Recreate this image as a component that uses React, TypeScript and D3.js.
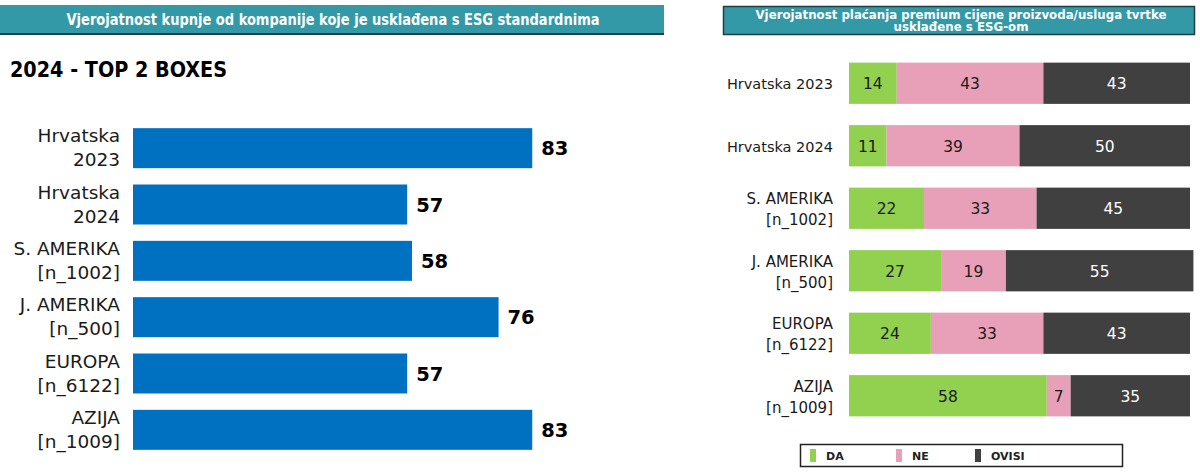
// @ts-nocheck
import * as d3 from 'd3'

const leftCategories = [
  ['Hrvatska', '2023'],
  ['Hrvatska', '2024'],
  ['S. AMERIKA', '[n_1002]'],
  ['J. AMERIKA', '[n_500]'],
  ['EUROPA', '[n_6122]'],
  ['AZIJA', '[n_1009]'],
]
const top2Values = [83, 57, 58, 76, 57, 83]

const rightCategories = [
  ['Hrvatska 2023'],
  ['Hrvatska 2024'],
  ['S. AMERIKA', '[n_1002]'],
  ['J. AMERIKA', '[n_500]'],
  ['EUROPA', '[n_6122]'],
  ['AZIJA', '[n_1009]'],
]
const seriesKeys = ['DA', 'NE', 'OVISI']
const daValues = [14, 11, 22, 27, 24, 58]
const neValues = [43, 39, 33, 19, 33, 7]
const ovisiValues = [43, 50, 45, 55, 43, 35]

const leftTitle = 'Vjerojatnost kupnje od kompanije koje je usklađena s ESG standardnima'
const rightTitle = ['Vjerojatnost plaćanja premium cijene proizvoda/usluga tvrtke', 'usklađene s ESG-om']
const subTitle = '2024 - TOP 2 BOXES'

const colors = { DA: '#92D050', NE: '#E8A0B8', OVISI: '#404040' }
const textColors = { DA: '#1a1a1a', NE: '#1a1a1a', OVISI: '#ffffff' }
const FONT = '"DejaVu Sans", Verdana, sans-serif'
const COND = '"DejaVu Sans Condensed", "DejaVu Sans", sans-serif'

export default function App() {
  // left chart scales
  const xL = d3.scaleLinear().domain([0, 100]).range([133, 133 + 481])
  const yL = d3
    .scaleBand()
    .domain(leftCategories.map((_, i) => String(i)))
    .range([120, 458])
    .paddingInner(0.29)
    .paddingOuter(0.145)

  // right chart scales
  const xR = d3.scaleLinear().domain([0, 100]).range([849, 1190])
  const yR = d3
    .scaleBand()
    .domain(rightCategories.map((_, i) => String(i)))
    .range([52, 427])
    .paddingInner(0.34)
    .paddingOuter(0.17)

  const table = rightCategories.map((_, i) => ({
    key: String(i),
    DA: daValues[i],
    NE: neValues[i],
    OVISI: ovisiValues[i],
  }))
  const series = d3.stack().keys(seriesKeys)(table)

  return (
    <svg
      width={1200}
      height={473}
      style={{ position: 'absolute', left: 0, top: 0, background: '#fff' }}
    >
      {/* left header */}
      <rect x={0} y={5} width={664} height={29} fill="#3499A7" />
      <rect x={0} y={33} width={664} height={2} fill="#1f3f47" />
      <text
        x={333}
        y={25}
        textAnchor="middle"
        fill="#fff"
        fontFamily={COND}
        fontWeight="bold"
        fontSize={15.5}
        textLength={533}
        lengthAdjust="spacingAndGlyphs"
      >
        {leftTitle}
      </text>
      <text
        x={10}
        y={77}
        fontFamily={COND}
        fontWeight="bold"
        fontSize={22}
        fill="#000"
        textLength={217}
        lengthAdjust="spacingAndGlyphs"
      >
        {subTitle}
      </text>

      {top2Values.map((v, i) => {
        const y = yL(String(i))
        const bw = yL.bandwidth()
        return (
          <g key={i}>
            <rect x={xL(0)} y={y} width={xL(v) - xL(0)} height={bw} fill="#0070C0" />
            <text
              x={xL(v) + 9}
              y={y + bw / 2 + 7}
              fontFamily={FONT}
              fontWeight="bold"
              fontSize={19.5}
              fill="#000"
            >
              {v}
            </text>
            {leftCategories[i].map((line, j) => (
              <text
                key={j}
                x={120}
                y={y + 14 + j * 24}
                textAnchor="end"
                fontFamily={FONT}
                fontSize={18.5}
                fill="#1a1a1a"
              >
                {line}
              </text>
            ))}
          </g>
        )
      })}

      {/* right header */}
      <rect x={723.5} y={6.5} width={471} height={28} fill="#3499A7" stroke="#1f3f47" strokeWidth={1.5} />
      {rightTitle.map((t, j) => (
        <text
          key={j}
          x={961}
          y={18.5 + j * 12}
          textAnchor="middle"
          fill="#fff"
          fontFamily={FONT}
          fontWeight="bold"
          fontSize={11.5}
          textLength={j === 0 ? 411 : 135}
          lengthAdjust="spacingAndGlyphs"
        >
          {t}
        </text>
      ))}

      {series.map((s) => (
        <g key={s.key}>
          {s.map((d, i) => {
            const y = yR(String(i))
            const bw = yR.bandwidth()
            return (
              <g key={i}>
                <rect x={xR(d[0])} y={y} width={xR(d[1]) - xR(d[0])} height={bw} fill={colors[s.key]} />
                <text
                  x={(xR(d[0]) + xR(d[1])) / 2}
                  y={y + bw / 2 + 6}
                  textAnchor="middle"
                  fontFamily={FONT}
                  fontSize={15.5}
                  fill={textColors[s.key]}
                >
                  {d[1] - d[0]}
                </text>
              </g>
            )
          })}
        </g>
      ))}

      {rightCategories.map((lines, i) => {
        const y = yR(String(i))
        const bw = yR.bandwidth()
        return lines.map((line, j) => (
          <text
            key={i + '-' + j}
            x={833}
            y={lines.length === 1 ? y + bw / 2 + 6 : y + bw / 2 - 4 + j * 21}
            textAnchor="end"
            fontFamily={FONT}
            fontSize={lines.length === 1 ? 14.5 : 15}
            fill="#1a1a1a"
          >
            {line}
          </text>
        ))
      })}

      {/* legend */}
      <rect x={800.5} y={444.5} width={322} height={22} fill="#fff" stroke="#222" strokeWidth={1.5} />
      {seriesKeys.map((k, i) => {
        const lx = [810, 896, 975][i]
        return (
          <g key={k}>
            <rect x={lx} y={449} width={6} height={13} fill={colors[k]} />
            <text x={lx + 16} y={460} fontFamily={FONT} fontWeight="bold" fontSize={11} fill="#222">
              {k}
            </text>
          </g>
        )
      })}
    </svg>
  )
}
